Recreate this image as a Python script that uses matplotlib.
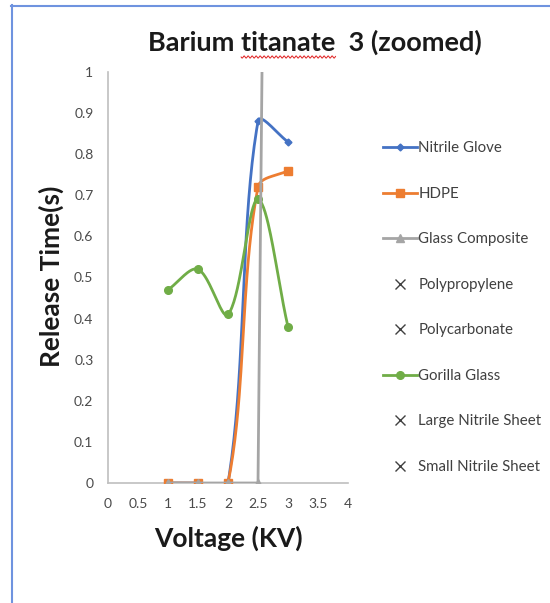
import numpy as np
import matplotlib
matplotlib.use("Agg")
import matplotlib.pyplot as plt
from matplotlib.lines import Line2D

# data
voltage = [1, 1.5, 2, 2.5, 3]
nitrile_glove = [0, 0, 0, 0.88, 0.83]
hdpe = [0, 0, 0, 0.72, 0.76]
glass_composite = [0, 0, 0, 0, 7.5]
gorilla_glass = [0.47, 0.52, 0.41, 0.69, 0.38]
empty_series = ["Polypropylene", "Polycarbonate", "Large Nitrile Sheet", "Small Nitrile Sheet"]

xticks = [0, 0.5, 1, 1.5, 2, 2.5, 3, 3.5, 4]
xticklabels = ["0", "0.5", "1", "1.5", "2", "2.5", "3", "3.5", "4"]
yticks = [0, 0.1, 0.2, 0.3, 0.4, 0.5, 0.6, 0.7, 0.8, 0.9, 1]
yticklabels = ["0", "0.1", "0.2", "0.3", "0.4", "0.5", "0.6", "0.7", "0.8", "0.9", "1"]

plt.rcParams['font.family'] = ['Lato', 'DejaVu Sans']

W, H = 550, 603
fig = plt.figure(figsize=(W / 100, H / 100), dpi=100)
ax = fig.add_axes([108 / W, 1 - 483 / H, 240 / W, 411 / H])
ax.set_xlim(0, 4)
ax.set_ylim(0, 1)

sx = 240 / 4.0
sy = 411 / 1.0


def smooth(xs, ys, n=40):
    # excel-ish smoothed line: bezier segments, tangents weighted by segment length
    p = np.column_stack([np.array(xs, float) * sx, np.array(ys, float) * sy])
    m = len(p)
    out = [p[0]]
    for i in range(m - 1):
        a, b = p[i], p[i + 1]
        pa = p[i - 1] if i > 0 else a
        pb = p[i + 2] if i + 2 < m else b
        d0 = np.hypot(*(a - pa))
        d1 = np.hypot(*(b - a))
        d2 = np.hypot(*(pb - b))
        c1 = a + (b - pa) * (d1 / (d0 + d1)) / 3 if d0 + d1 > 0 else a
        c2 = b - (pb - a) * (d1 / (d1 + d2)) / 3 if d1 + d2 > 0 else b
        t = np.linspace(0, 1, n)[1:, None]
        seg = (1 - t) ** 3 * a + 3 * (1 - t) ** 2 * t * c1 + 3 * (1 - t) * t ** 2 * c2 + t ** 3 * b
        out.extend(seg)
    out = np.array(out)
    return out[:, 0] / sx, out[:, 1] / sy


blue = '#4472C4'
orange = '#ED7D31'
gray = '#A5A5A5'
green = '#70AD47'
lw = 2.0

bx, by = smooth(voltage, nitrile_glove)
ax.plot(bx, by, color=blue, lw=lw, zorder=3)
ax.plot(voltage, nitrile_glove, 'D', color=blue, ms=3.5, zorder=3)

hx, hy = smooth(voltage, hdpe)
ax.plot(hx, hy, color=orange, lw=lw, zorder=3)
ax.plot(voltage, hdpe, 's', color=orange, ms=5.5, zorder=3)

gx, gy = smooth(voltage, gorilla_glass)
ax.plot(gx, gy, color=green, lw=lw, zorder=4)
ax.plot(voltage, gorilla_glass, 'o', color=green, ms=5.5, zorder=4)

ax.plot(voltage, glass_composite, color=gray, lw=lw, zorder=5)
ax.plot(voltage, glass_composite, '^', color=gray, ms=5.5, zorder=5)

for sp in ['top', 'right']:
    ax.spines[sp].set_visible(False)
for sp in ['left', 'bottom']:
    ax.spines[sp].set_color('#BFBFBF')
    ax.spines[sp].set_linewidth(1.2)
ax.set_xticks(xticks)
ax.set_xticklabels(xticklabels)
ax.set_yticks(yticks)
ax.set_yticklabels(yticklabels)
ax.tick_params(length=0, labelsize=10, labelcolor='#4a4a4a')
ax.tick_params(axis='x', pad=10.5)
ax.tick_params(axis='y', pad=10.5)

# legend
handles = [
    Line2D([], [], color=blue, lw=lw, marker='D', ms=3.5),
    Line2D([], [], color=orange, lw=lw, marker='s', ms=5.5),
    Line2D([], [], color=gray, lw=lw, marker='^', ms=5.5),
    Line2D([], [], color='#404040', ls='none', marker='x', ms=7),
    Line2D([], [], color='#404040', ls='none', marker='x', ms=7),
    Line2D([], [], color=green, lw=lw, marker='o', ms=5.5),
    Line2D([], [], color='#404040', ls='none', marker='x', ms=7),
    Line2D([], [], color='#404040', ls='none', marker='x', ms=7),
]
labels = ["Nitrile Glove", "HDPE", "Glass Composite", empty_series[0],
          empty_series[1], "Gorilla Glass", empty_series[2], empty_series[3]]
fig.legend(handles, labels, loc='center left', bbox_to_anchor=(383 / W, 1 - 307.5 / H),
           frameon=False, fontsize=10.8, labelspacing=2.1, handlelength=2.25,
           handletextpad=0.1, borderpad=0, borderaxespad=0, numpoints=1,
           labelcolor='#404040')

# titles
title_kw = dict(fontsize=19.5, fontweight='bold', color='#1a1a1a')
title = fig.text(315 / W, 1 - 51 / H, "Barium titanate  3 (zoomed)", ha='center', va='baseline', **title_kw)
fig.text(51 / W, 1 - 276 / H, "Release Time(s)", rotation=90, ha='center', va='center',
         fontsize=19, fontweight='bold', color='#1a1a1a')
fig.text(228 / W, 1 - 547 / H, "Voltage (KV)", ha='center', va='baseline',
         fontsize=19, fontweight='bold', color='#1a1a1a')

# red spell-check squiggle under "titanate"
fig.canvas.draw()
r = fig.canvas.get_renderer()
bb = title.get_window_extent(r)


def text_w(s):
    t = fig.text(0, 0, s, **title_kw)
    w = t.get_window_extent(r).width
    t.remove()
    return w


x0 = bb.x0 + text_w("Barium titanate") - text_w("titanate")
x1 = x0 + text_w("titanate")
wx = np.linspace(x0, x1, 200)
wy = (H - 57) - 1.1 * np.sin((wx - x0) * 2 * np.pi / 4.0)
fig.add_artist(Line2D(wx / W, wy / H, color='#E02020', lw=0.7))

# outer blue frame
frame = '#6F93DF'
fig.add_artist(Line2D([11.5 / W, 11.5 / W], [0, 1 - 5 / H], color=frame, lw=1.5))
fig.add_artist(Line2D([11 / W, 1], [1 - 5.5 / H, 1 - 5.5 / H], color=frame, lw=1.5))

fig.savefig("out.png", dpi=100)
